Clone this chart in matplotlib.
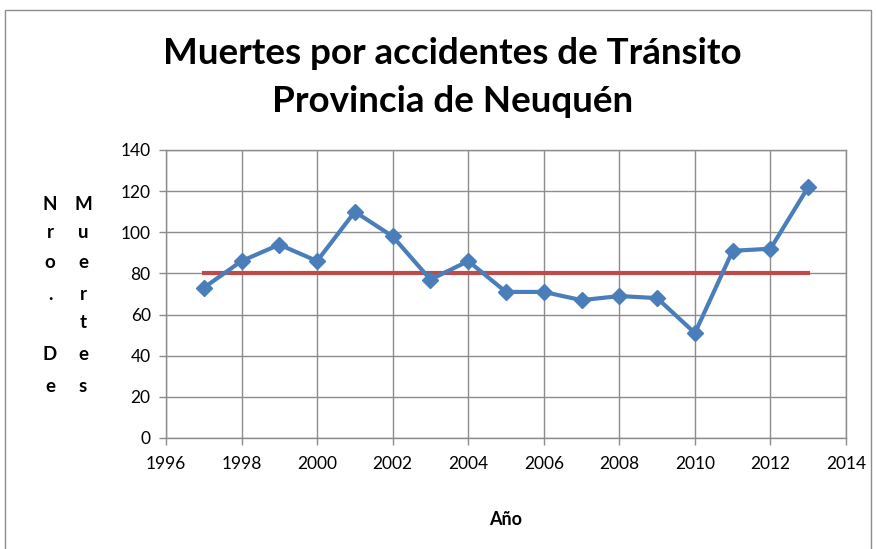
import matplotlib
matplotlib.use("Agg")
import matplotlib.pyplot as plt
from matplotlib.patches import Rectangle

# datos
anios = [1997, 1998, 1999, 2000, 2001, 2002, 2003, 2004, 2005,
         2006, 2007, 2008, 2009, 2010, 2011, 2012, 2013]
muertes = [73, 86, 94, 86, 110, 98, 77, 86, 71,
           71, 67, 69, 68, 51, 91, 92, 122]
promedio = [80] * len(anios)

x_ticks = list(range(1996, 2015, 2))
y_ticks = list(range(0, 141, 20))

plt.rcParams['font.family'] = ['Lato', 'DejaVu Sans']

fig = plt.figure(figsize=(8.78, 5.49), dpi=100)
ax = fig.add_axes([0.189, 0.2022, 0.7746, 0.5246])

ax.plot(anios, muertes, color='#4A7EBB', lw=3, marker='D', ms=8,
        markeredgecolor='#4A7EBB', zorder=3, clip_on=False)
ax.plot(anios, promedio, color='#BE4B48', lw=3, zorder=2)

ax.set_xlim(1996, 2014)
ax.set_ylim(0, 140)
ax.set_xticks(x_ticks)
ax.set_yticks(y_ticks)
ax.grid(True, color='#8C8C8C', lw=1)
ax.set_axisbelow(True)
for s in ax.spines.values():
    s.set_color('#8C8C8C')
    s.set_linewidth(1)
ax.tick_params(axis='both', colors='#8C8C8C', labelcolor='black',
               labelsize=12.5, length=5, width=1)
ax.tick_params(axis='x', pad=8)
ax.tick_params(axis='y', pad=6)

fig.text(0.515, 0.902, 'Muertes por accidentes de Tránsito',
         ha='center', va='center', fontsize=26.5, fontweight='bold')
fig.text(0.515, 0.815, 'Provincia de Neuquén',
         ha='center', va='center', fontsize=26.5, fontweight='bold')

ax.set_xlabel('Año', fontsize=13, fontweight='bold', labelpad=28)

# etiqueta del eje y partida en dos columnas, como en la planilla
col1 = ['N', 'r', 'o', '.', '', 'D', 'e']
col2 = ['M', 'u', 'e', 'r', 't', 'e', 's']
filas = [204, 233, 262, 294, 323, 355, 386]
for c1, c2, yy in zip(col1, col2, filas):
    fig.text(50 / 878, 1 - yy / 549, c1, ha='center', va='center',
             fontsize=13.5, fontweight='bold')
    fig.text(83 / 878, 1 - yy / 549, c2, ha='center', va='center',
             fontsize=13.5, fontweight='bold')

fig.patches.append(Rectangle((5 / 878, -0.01), 866 / 878, 1 - 10 / 549 + 0.01,
                             transform=fig.transFigure, fill=False,
                             edgecolor='#8C8C8C', lw=1))

fig.savefig('out.png', dpi=100)
